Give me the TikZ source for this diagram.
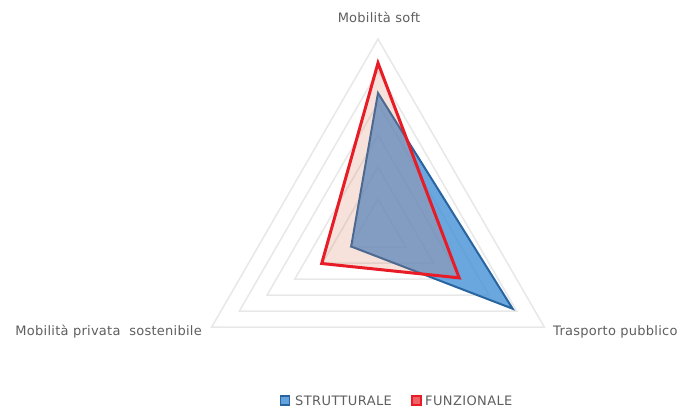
\documentclass[tikz,border=0pt]{standalone}
\usepackage{fontspec}
\setmainfont{DejaVu Sans}
\newfontfamily\labfont[LetterSpace=2]{DejaVu Sans}
\newfontfamily\legfont[LetterSpace=3]{DejaVu Sans}
\usetikzlibrary{calc}
\definecolor{gridc}{RGB}{232,232,232}
\definecolor{txtc}{RGB}{95,95,95}
\definecolor{bluefill}{RGB}{70,145,215}
\definecolor{blueline}{RGB}{40,100,160}
\definecolor{redfill}{RGB}{215,125,90}
\definecolor{redline}{RGB}{232,28,38}
\tikzset{
  ring/.style={draw=gridc, line width=1.5pt, line join=miter},
  axlabel/.style={text=txtc, font=\labfont\fontsize{13}{15}\selectfont, inner sep=0pt},
  legtext/.style={text=txtc, font=\legfont\fontsize{13}{15}\selectfont, inner sep=0pt, anchor=west},
  bluepoly/.style={fill=bluefill, fill opacity=0.8, draw=blueline, line width=2pt, line join=miter},
  redpoly/.style={fill=redfill, fill opacity=0.22, draw=redline, draw opacity=1, line width=3pt, line join=miter},
  legbox/.style={minimum size=9pt, inner sep=0pt, line width=1.2pt}
}
\begin{document}
\begin{tikzpicture}[x=1pt, y=-1pt]
\useasboundingbox[fill=white] (0,0) rectangle (684,412);
\coordinate (C) at (378,231);
% grid rings
\foreach \k in {1,...,6}{
  \draw[ring] ($(C)+(-90:{\k*32})$) -- ($(C)+(30:{\k*32})$) -- ($(C)+(150:{\k*32})$) -- cycle;
}
% data points
\coordinate (bT) at ($(C)+(-90:138)$);
\coordinate (bR) at ($(C)+(30:155.5)$);
\coordinate (bL) at ($(C)+(150:31)$);
\coordinate (rT) at ($(C)+(-90:168)$);
\coordinate (rR) at ($(C)+(30:93.7)$);
\coordinate (rL) at ($(C)+(150:65)$);
% series
\draw[bluepoly] (bT) -- (bR) -- (bL) -- cycle;
\draw[redpoly] (rT) -- (rR) -- (rL) -- cycle;
% axis labels
\node[axlabel] (lt) at (379,17) {Mobilità soft};
\node[axlabel, anchor=east] (ll) at (202,331.5) {Mobilità privata\ \ sostenibile};
\node[axlabel, anchor=west] (lr) at (553,331.5) {Trasporto pubblico};
% legend
\node[legbox, draw=blueline, fill=bluefill!85] (sb) at (285,400.5) {};
\node[legtext] (tb) at (295,400.5) {STRUTTURALE};
\node[legbox, draw=redline, fill=redline!70] (sr) at (416.5,400.5) {};
\node[legtext] (tr) at (425,400.5) {FUNZIONALE};
\end{tikzpicture}
\end{document}
